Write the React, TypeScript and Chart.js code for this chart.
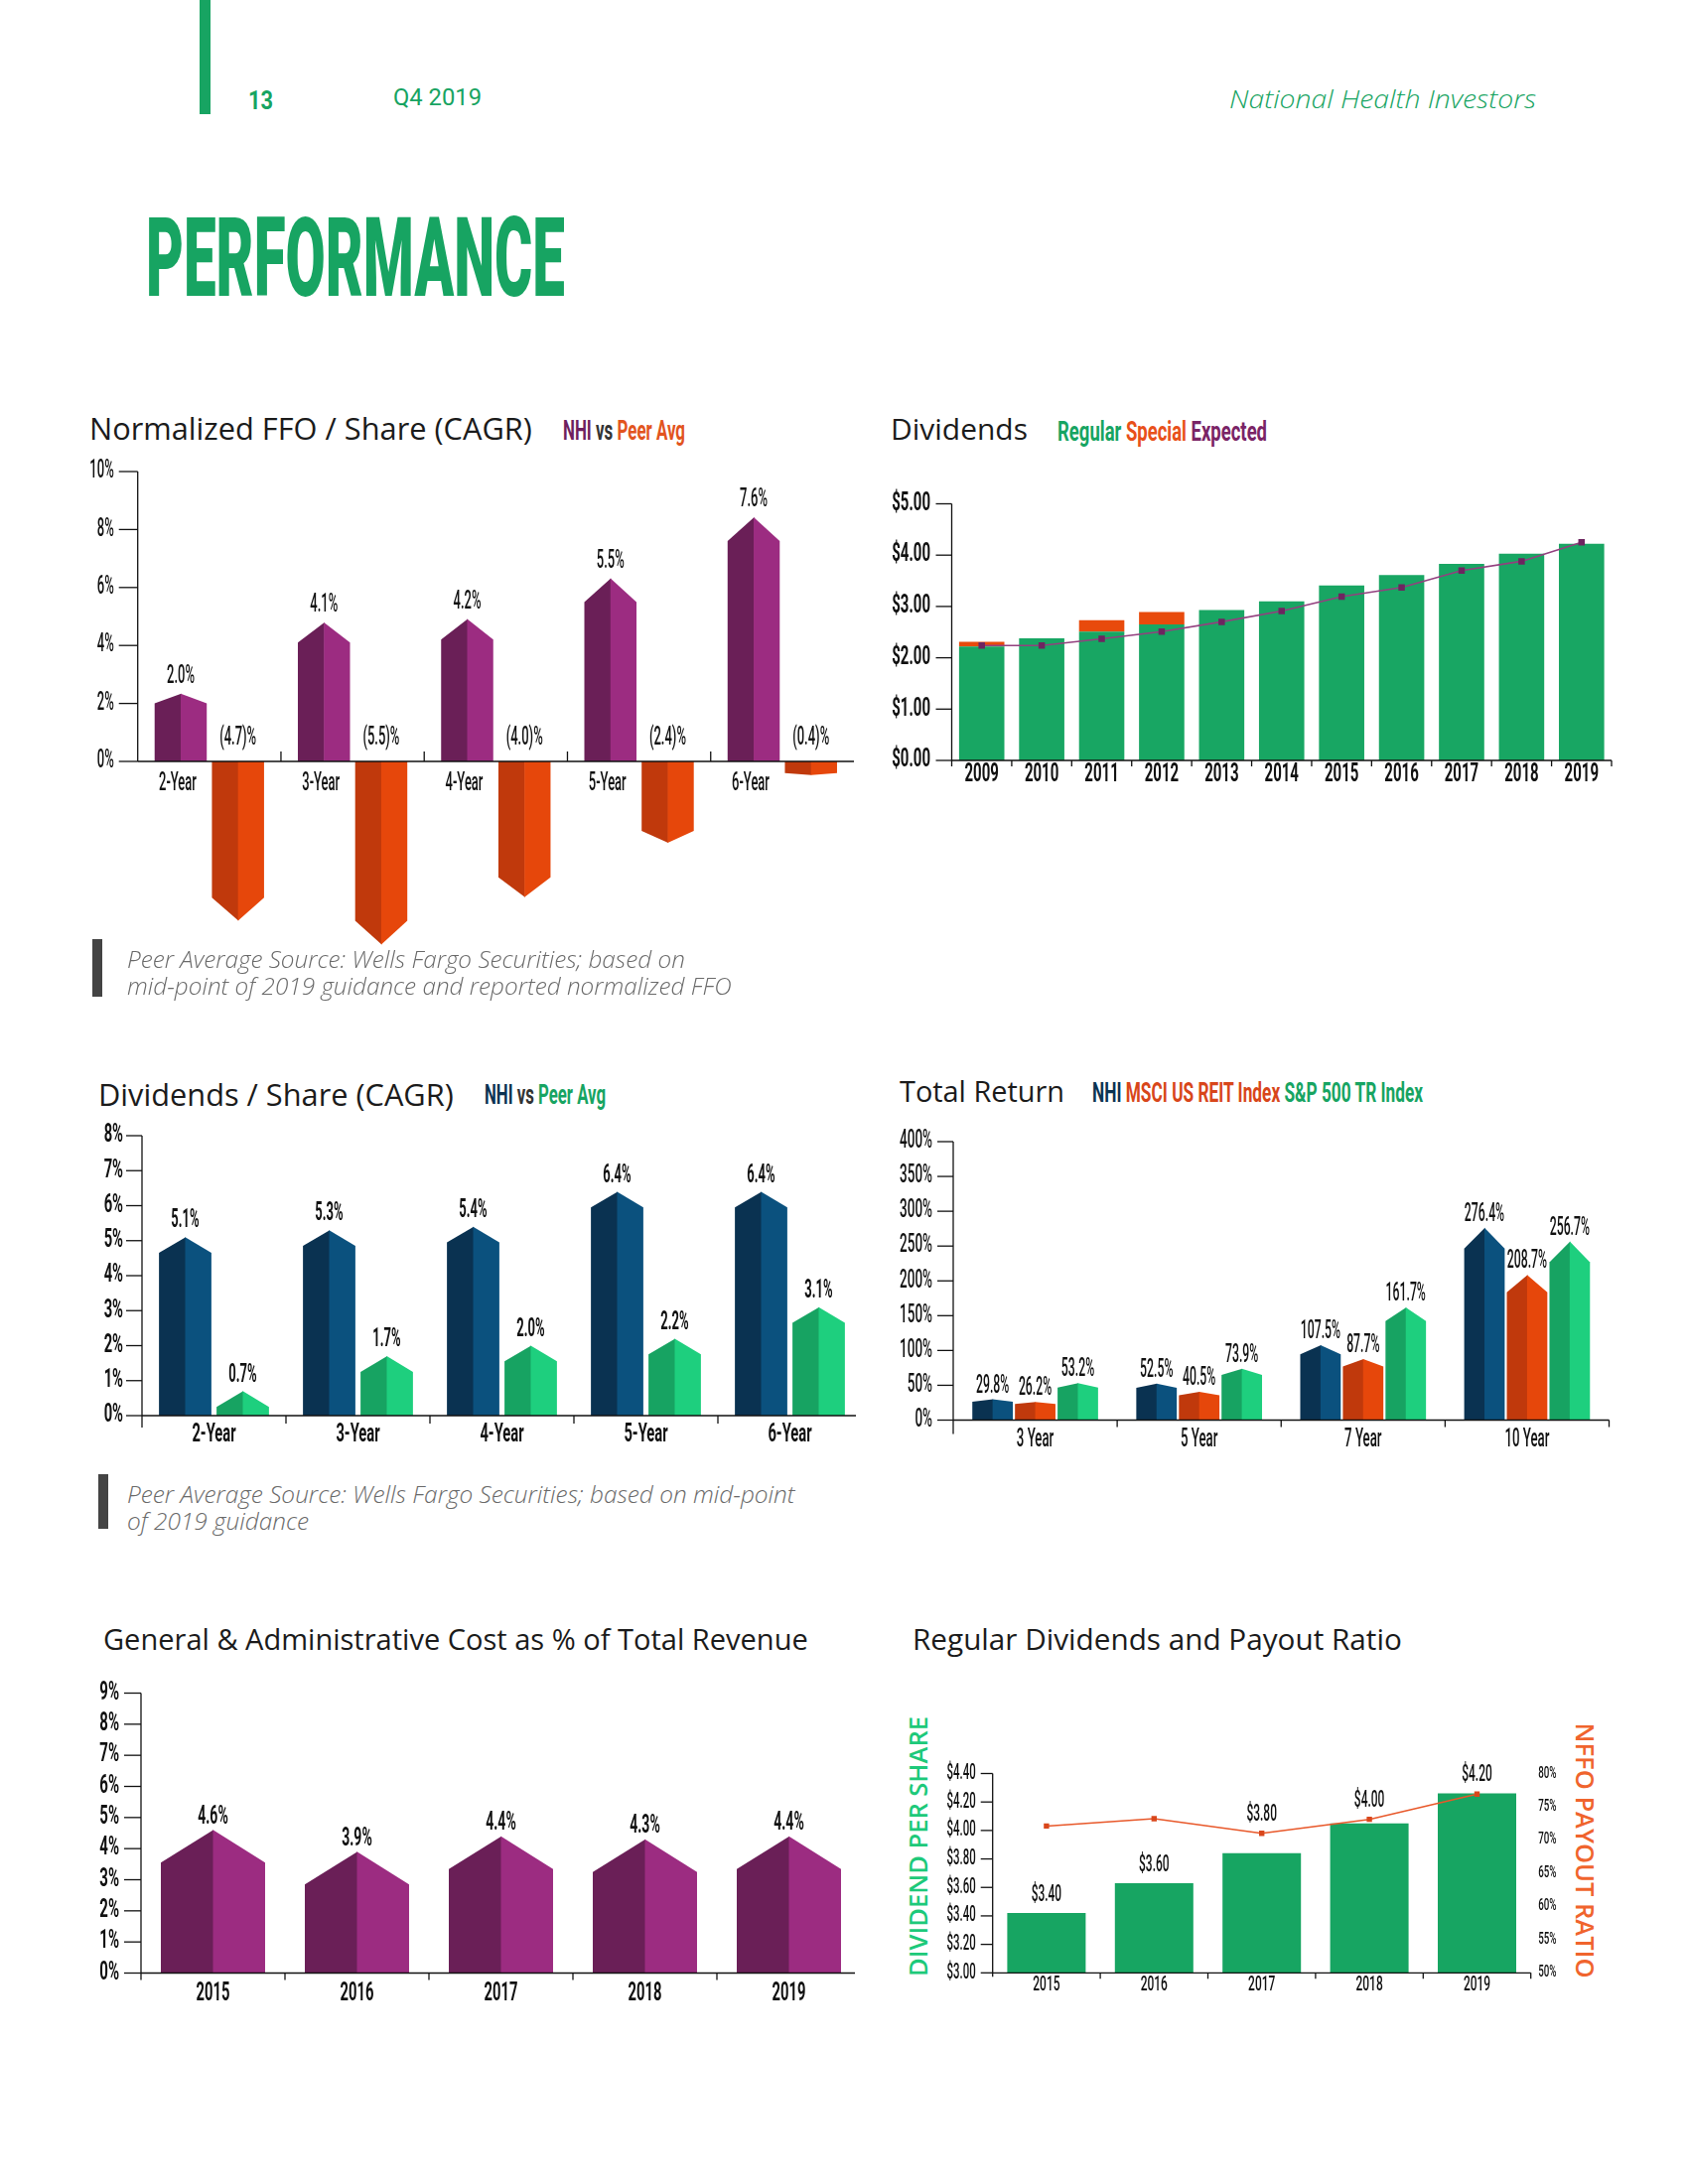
import React, { useEffect, useRef } from 'react';
import { Chart, registerables } from 'chart.js';
Chart.register(...registerables);

// ---------------- DATA ----------------
const ffoCategories = ['2-Year', '3-Year', '4-Year', '5-Year', '6-Year'];
const ffoNHI = [2.0, 4.1, 4.2, 5.5, 7.6];
const ffoPeerAvg = [-4.7, -5.5, -4.0, -2.4, -0.4];
const ffoTicks = [0, 2, 4, 6, 8, 10];

const divYears = ['2009', '2010', '2011', '2012', '2013', '2014', '2015', '2016', '2017', '2018', '2019'];
const divRegular = [2.22, 2.38, 2.51, 2.65, 2.93, 3.1, 3.41, 3.61, 3.83, 4.03, 4.22];
const divSpecial = [0.09, 0, 0.22, 0.24, 0, 0, 0, 0, 0, 0, 0];
const divExpected = [2.24, 2.24, 2.37, 2.51, 2.7, 2.91, 3.19, 3.37, 3.7, 3.88, 4.25];
const divTicks = [0, 1, 2, 3, 4, 5];

const dpsCategories = ['2-Year', '3-Year', '4-Year', '5-Year', '6-Year'];
const dpsNHI = [5.1, 5.3, 5.4, 6.4, 6.4];
const dpsPeerAvg = [0.7, 1.7, 2.0, 2.2, 3.1];
const dpsTicks = [0, 1, 2, 3, 4, 5, 6, 7, 8];

const trCategories = ['3 Year', '5 Year', '7 Year', '10 Year'];
const trNHI = [29.8, 52.5, 107.5, 276.4];
const trMSCI = [26.2, 40.5, 87.7, 208.7];
const trSP500 = [53.2, 73.9, 161.7, 256.7];
const trTicks = [0, 50, 100, 150, 200, 250, 300, 350, 400];

const gaYears = ['2015', '2016', '2017', '2018', '2019'];
const gaValues = [4.6, 3.9, 4.4, 4.3, 4.4];
const gaTicks = [0, 1, 2, 3, 4, 5, 6, 7, 8, 9];

const rdYears = ['2015', '2016', '2017', '2018', '2019'];
const rdDividend = [3.42, 3.63, 3.84, 4.05, 4.26];
const rdDividendLabels = ['$3.40', '$3.60', '$3.80', '$4.00', '$4.20'];
const rdPayoutRatio = [72.1, 73.2, 71.0, 73.1, 76.9];
const rdDividendTicks = [3.0, 3.2, 3.4, 3.6, 3.8, 4.0, 4.2, 4.4];
const rdPayoutTicks = [50, 55, 60, 65, 70, 75, 80];

// ---------------- COLORS ----------------
const GREEN = '#17A462';
const PURPLE_D = '#6A1F57';
const PURPLE_L = '#9C2C81';
const ORANGE_D = '#C0390C';
const ORANGE_L = '#E6470B';
const NAVY_D = '#0A3251';
const NAVY_L = '#0B517E';
const GREEN_D = '#17A362';
const GREEN_L = '#1ECF7E';

// ---------------- CANVAS HELPERS ----------------
type TF = { size: number; weight: number; sx: number; color?: string };

function ctext(ctx: any, s: string, x: number, y: number, f: TF, align: string = 'center') {
  ctx.save();
  ctx.font = `${f.weight} ${f.size}px Roboto, "DejaVu Sans", sans-serif`;
  ctx.fillStyle = f.color || '#111';
  ctx.textBaseline = 'middle';
  ctx.textAlign = align;
  ctx.translate(x, y);
  ctx.scale(f.sx, 1);
  ctx.fillText(s, 0, 0);
  ctx.restore();
}

function seg(ctx: any, x1: number, y1: number, x2: number, y2: number, w = 1.3, c = '#111') {
  ctx.save();
  ctx.strokeStyle = c;
  ctx.lineWidth = w;
  ctx.beginPath();
  ctx.moveTo(x1, y1);
  ctx.lineTo(x2, y2);
  ctx.stroke();
  ctx.restore();
}

function house(ctx: any, cx: number, w: number, baseY: number, shoulderY: number, peakY: number, dark: string, light: string) {
  const x0 = cx - w / 2;
  const x1 = cx + w / 2;
  ctx.save();
  ctx.fillStyle = dark;
  ctx.beginPath();
  ctx.moveTo(x0, baseY);
  ctx.lineTo(x0, shoulderY);
  ctx.lineTo(cx + 0.5, peakY);
  ctx.lineTo(cx + 0.5, baseY);
  ctx.closePath();
  ctx.fill();
  ctx.fillStyle = light;
  ctx.beginPath();
  ctx.moveTo(cx, baseY);
  ctx.lineTo(cx, peakY);
  ctx.lineTo(x1, shoulderY);
  ctx.lineTo(x1, baseY);
  ctx.closePath();
  ctx.fill();
  ctx.restore();
}

function yAxisDraw(chart: any, scaleId: string, ticks: number[], fmt: (v: number) => string, f: TF,
  o: { tickLen: number; gap: number; below?: number; side?: string; noLine?: boolean }) {
  const ctx = chart.ctx;
  const ys = chart.scales[scaleId];
  const side = o.side || 'left';
  const x = side === 'left' ? chart.chartArea.left : chart.chartArea.right;
  const top = ys.getPixelForValue(ticks[ticks.length - 1]);
  const bot = ys.getPixelForValue(ticks[0]);
  if (!o.noLine) seg(ctx, x, top, x, bot + (o.below || 0));
  ticks.forEach((v) => {
    const y = ys.getPixelForValue(v);
    if (side === 'left') {
      if (o.tickLen > 0) seg(ctx, x - o.tickLen, y, x, y);
      ctext(ctx, fmt(v), x - o.gap, y, f, 'right');
    } else {
      if (o.tickLen > 0) seg(ctx, x, y, x + o.tickLen, y);
      ctext(ctx, fmt(v), x + o.gap, y, f, 'left');
    }
  });
}

function boundaries(chart: any, n: number) {
  const xs = chart.scales.x;
  const c0 = xs.getPixelForValue(0);
  const cw = n > 1 ? xs.getPixelForValue(1) - c0 : chart.chartArea.width;
  const out: number[] = [];
  for (let k = 0; k <= n; k++) out.push(c0 - cw / 2 + k * cw);
  return out;
}

// ---------------- CHART BOX ----------------
type Box = { left: number; top: number; width: number; height: number; area: { l: number; t: number; r: number; b: number } };

function baseOptions(padding: any, scales: any) {
  return {
    responsive: false,
    maintainAspectRatio: false,
    animation: false,
    events: [],
    layout: { padding },
    plugins: { legend: { display: false }, tooltip: { enabled: false }, title: { display: false } },
    scales,
  };
}

function ChartBox({ box, build }: { box: Box; build: (padding: any) => any }) {
  const ref = useRef<HTMLCanvasElement | null>(null);
  useEffect(() => {
    if (!ref.current) return;
    const { l, t, r, b } = box.area;
    const padding = { left: l - box.left, top: t - box.top, right: box.left + box.width - r, bottom: box.top + box.height - b };
    const chart = new Chart(ref.current, build(padding));
    return () => chart.destroy();
  }, []);
  return (
    <canvas
      ref={ref}
      width={box.width}
      height={box.height}
      style={{ position: 'absolute', left: box.left, top: box.top, width: box.width, height: box.height }}
    />
  );
}

const clear = 'rgba(0,0,0,0)';

// ---------- Chart 1: Normalized FFO ----------
const ffoBox: Box = { left: 80, top: 455, width: 800, height: 520, area: { l: 138.7, t: 475, r: 860, b: 767 } };
function buildFFO(padding: any) {
  const fTick: TF = { size: 25, weight: 500, sx: 0.52 };
  const fVal: TF = { size: 25, weight: 500, sx: 0.52 };
  const pct = (v: number) => (v < 0 ? `(${Math.abs(v).toFixed(1)})%` : `${v.toFixed(1)}%`);
  return {
    type: 'bar',
    data: {
      labels: ffoCategories,
      datasets: [
        { label: 'NHI', data: ffoNHI, backgroundColor: clear, categoryPercentage: 0.8, barPercentage: 0.91 },
        { label: 'Peer Avg', data: ffoPeerAvg, backgroundColor: clear, categoryPercentage: 0.8, barPercentage: 0.91 },
      ],
    },
    options: baseOptions(padding, {
      x: { display: false, offset: true },
      y: { display: false, min: 0, max: 10 },
    }),
    plugins: [{
      id: 'ffo',
      afterDatasetsDraw(chart: any) {
        const ctx = chart.ctx;
        const ys = chart.scales.y;
        const y0 = ys.getPixelForValue(0);
        const mN = chart.getDatasetMeta(0);
        const mP = chart.getDatasetMeta(1);
        ffoNHI.forEach((v, i) => {
          const el = mN.data[i];
          const vy = ys.getPixelForValue(v);
          const tip = Math.min(0.17 * (y0 - vy), 24);
          house(ctx, el.x, el.width, y0, vy, vy - tip, PURPLE_D, PURPLE_L);
          ctext(ctx, pct(v), el.x, vy - tip - 17, fVal);
          ctext(ctx, ffoCategories[i], el.x - 3, y0 + 23, fTick);
        });
        ffoPeerAvg.forEach((v, i) => {
          const el = mP.data[i];
          const vy = ys.getPixelForValue(v);
          const tip = Math.min(0.17 * (vy - y0), 24);
          house(ctx, el.x, el.width, y0, vy, vy + tip, ORANGE_D, ORANGE_L);
          ctext(ctx, pct(v), el.x, y0 - 23, fVal);
        });
        yAxisDraw(chart, 'y', ffoTicks, (v) => `${v}%`, fTick, { tickLen: 19, gap: 24 });
        seg(ctx, chart.chartArea.left, y0, chart.chartArea.right, y0);
        boundaries(chart, ffoCategories.length).slice(1, -1).forEach((bx) => seg(ctx, bx, y0 - 10, bx, y0));
      },
    }],
  };
}

// ---------- Chart 2: Dividends ----------
const divBox: Box = { left: 880, top: 490, width: 760, height: 320, area: { l: 958.5, t: 507.5, r: 1623, b: 766 } };
function buildDiv(padding: any) {
  const f: TF = { size: 25, weight: 700, sx: 0.6 };
  return {
    type: 'bar',
    data: {
      labels: divYears,
      datasets: [
        { type: 'line', label: 'Expected', data: divExpected, borderColor: '#93407F', borderWidth: 1.6,
          pointStyle: 'rect', pointRadius: 4.6, pointBackgroundColor: '#6E2460', pointBorderWidth: 0, order: 0, tension: 0 },
        { label: 'Regular', data: divRegular, backgroundColor: '#18A663', borderWidth: 0, categoryPercentage: 0.8, barPercentage: 0.944, order: 1 },
        { label: 'Special', data: divSpecial, backgroundColor: '#E84A0C', borderWidth: 0, categoryPercentage: 0.8, barPercentage: 0.944, order: 1 },
      ],
    },
    options: baseOptions(padding, {
      x: { display: false, offset: true, stacked: true },
      y: { display: false, min: 0, max: 5, stacked: true },
    }),
    plugins: [{
      id: 'div',
      afterDraw(chart: any) {
        const ctx = chart.ctx;
        const ys = chart.scales.y;
        const xs = chart.scales.x;
        const y0 = ys.getPixelForValue(0);
        yAxisDraw(chart, 'y', divTicks, (v) => `$${v.toFixed(2)}`, f, { tickLen: 16, gap: 21.5, below: 6 });
        seg(ctx, chart.chartArea.left, y0, chart.chartArea.right, y0);
        boundaries(chart, divYears.length).slice(1).forEach((bx) => seg(ctx, bx, y0, bx, y0 + 6));
        divYears.forEach((yr, i) => ctext(ctx, yr, xs.getPixelForValue(i), y0 + 15, f));
      },
    }],
  };
}

// ---------- Chart 3: Dividends / Share CAGR ----------
const dpsBox: Box = { left: 80, top: 1125, width: 810, height: 345, area: { l: 143, t: 1144, r: 868, b: 1426 } };
function buildDPS(padding: any) {
  const fTick: TF = { size: 25, weight: 700, sx: 0.59 };
  const fVal: TF = { size: 25, weight: 700, sx: 0.52 };
  return {
    type: 'bar',
    data: {
      labels: dpsCategories,
      datasets: [
        { label: 'NHI', data: dpsNHI, backgroundColor: clear, categoryPercentage: 0.8, barPercentage: 0.91 },
        { label: 'Peer Avg', data: dpsPeerAvg, backgroundColor: clear, categoryPercentage: 0.8, barPercentage: 0.91 },
      ],
    },
    options: baseOptions(padding, {
      x: { display: false, offset: true },
      y: { display: false, min: 0, max: 8 },
    }),
    plugins: [{
      id: 'dps',
      afterDatasetsDraw(chart: any) {
        const ctx = chart.ctx;
        const ys = chart.scales.y;
        const xs = chart.scales.x;
        const y0 = ys.getPixelForValue(0);
        const series = [dpsNHI, dpsPeerAvg];
        const cols = [[NAVY_D, NAVY_L], [GREEN_D, GREEN_L]];
        series.forEach((vals, di) => {
          const meta = chart.getDatasetMeta(di);
          vals.forEach((v, i) => {
            const el = meta.data[i];
            const vy = ys.getPixelForValue(v);
            const tip = Math.min(15.8, 0.9 * (y0 - vy));
            house(ctx, el.x, el.width, y0, vy + tip, vy, cols[di][0], cols[di][1]);
            ctext(ctx, `${v.toFixed(1)}%`, el.x, vy - 16, fVal);
          });
        });
        yAxisDraw(chart, 'y', dpsTicks, (v) => `${v}%`, fTick, { tickLen: 16, gap: 19, below: 12 });
        seg(ctx, chart.chartArea.left, y0, chart.chartArea.right - 6, y0);
        boundaries(chart, dpsCategories.length).slice(1, -1).forEach((bx) => seg(ctx, bx, y0, bx, y0 + 8));
        dpsCategories.forEach((c, i) => ctext(ctx, c, xs.getPixelForValue(i), y0 + 20, fTick));
      },
    }],
  };
}

// ---------- Chart 4: Total Return ----------
const trBox: Box = { left: 880, top: 1130, width: 760, height: 340, area: { l: 960, t: 1150, r: 1620.5, b: 1430.5 } };
function buildTR(padding: any) {
  const fTick: TF = { size: 25, weight: 500, sx: 0.54 };
  const fX: TF = { size: 25, weight: 500, sx: 0.53 };
  const fVal: TF = { size: 25, weight: 500, sx: 0.49 };
  return {
    type: 'bar',
    data: {
      labels: trCategories,
      datasets: [
        { label: 'NHI', data: trNHI, backgroundColor: clear, categoryPercentage: 0.78, barPercentage: 0.95 },
        { label: 'MSCI US REIT Index', data: trMSCI, backgroundColor: clear, categoryPercentage: 0.78, barPercentage: 0.95 },
        { label: 'S&P 500 TR Index', data: trSP500, backgroundColor: clear, categoryPercentage: 0.78, barPercentage: 0.95 },
      ],
    },
    options: baseOptions(padding, {
      x: { display: false, offset: true },
      y: { display: false, min: 0, max: 400 },
    }),
    plugins: [{
      id: 'tr',
      afterDatasetsDraw(chart: any) {
        const ctx = chart.ctx;
        const ys = chart.scales.y;
        const xs = chart.scales.x;
        const y0 = ys.getPixelForValue(0);
        const series = [trNHI, trMSCI, trSP500];
        const cols = [[NAVY_D, NAVY_L], [ORANGE_D, ORANGE_L], [GREEN_D, GREEN_L]];
        series.forEach((vals, di) => {
          const meta = chart.getDatasetMeta(di);
          vals.forEach((v, i) => {
            const el = meta.data[i];
            const vy = ys.getPixelForValue(v);
            const tip = Math.min(0.12 * (y0 - vy), 21);
            house(ctx, el.x, el.width, y0, vy + tip, vy, cols[di][0], cols[di][1]);
            ctext(ctx, `${v.toFixed(1)}%`, el.x, vy - 13, fVal);
          });
        });
        yAxisDraw(chart, 'y', trTicks, (v) => `${v}%`, fTick, { tickLen: 16, gap: 21, below: 14 });
        seg(ctx, chart.chartArea.left, y0, chart.chartArea.right, y0);
        boundaries(chart, trCategories.length).slice(1).forEach((bx) => seg(ctx, bx, y0, bx, y0 + 7));
        trCategories.forEach((c, i) => ctext(ctx, c, xs.getPixelForValue(i), y0 + 20, fX));
      },
    }],
  };
}

// ---------- Chart 5: G&A ----------
const gaBox: Box = { left: 80, top: 1690, width: 810, height: 340, area: { l: 142, t: 1705.5, r: 867, b: 1987.5 } };
function buildGA(padding: any) {
  const fTick: TF = { size: 25, weight: 700, sx: 0.6 };
  const fX: TF = { size: 25, weight: 700, sx: 0.59 };
  const fVal: TF = { size: 25, weight: 700, sx: 0.56 };
  return {
    type: 'bar',
    data: {
      labels: gaYears,
      datasets: [{ label: 'G&A %', data: gaValues, backgroundColor: clear, categoryPercentage: 0.8, barPercentage: 0.905 }],
    },
    options: baseOptions(padding, {
      x: { display: false, offset: true },
      y: { display: false, min: 0, max: 9 },
    }),
    plugins: [{
      id: 'ga',
      afterDatasetsDraw(chart: any) {
        const ctx = chart.ctx;
        const ys = chart.scales.y;
        const xs = chart.scales.x;
        const y0 = ys.getPixelForValue(0);
        const meta = chart.getDatasetMeta(0);
        gaValues.forEach((v, i) => {
          const el = meta.data[i];
          const vy = ys.getPixelForValue(v);
          house(ctx, el.x, el.width, y0, vy + 33, vy, PURPLE_D, PURPLE_L);
          ctext(ctx, `${v.toFixed(1)}%`, el.x, vy - 13, fVal);
        });
        yAxisDraw(chart, 'y', gaTicks, (v) => `${v}%`, fTick, { tickLen: 17, gap: 22, below: 7 });
        seg(ctx, chart.chartArea.left, y0, chart.chartArea.right - 6, y0);
        boundaries(chart, gaYears.length).slice(1, -1).forEach((bx) => seg(ctx, bx, y0, bx, y0 + 7));
        gaYears.forEach((c, i) => ctext(ctx, c, xs.getPixelForValue(i), y0 + 21, fX));
      },
    }],
  };
}

// ---------- Chart 6: Regular Dividends & Payout ----------
const rdBox: Box = { left: 940, top: 1760, width: 660, height: 260, area: { l: 999.7, t: 1786.5, r: 1541.7, b: 1987.3 } };
function buildRD(padding: any) {
  const fTick: TF = { size: 22, weight: 500, sx: 0.52 };
  const fRight: TF = { size: 16, weight: 500, sx: 0.61 };
  const fX: TF = { size: 21, weight: 500, sx: 0.57 };
  const fVal: TF = { size: 23, weight: 500, sx: 0.52 };
  return {
    type: 'bar',
    data: {
      labels: rdYears,
      datasets: [
        { type: 'line', label: 'NFFO Payout Ratio', data: rdPayoutRatio, yAxisID: 'y2', borderColor: '#E8582A', borderWidth: 1.5,
          pointStyle: 'rect', pointRadius: 3.8, pointBackgroundColor: '#D9471C', pointBorderWidth: 0, order: 0, tension: 0 },
        { label: 'Dividend per Share', data: rdDividend, yAxisID: 'y', backgroundColor: '#17A562', borderWidth: 0,
          categoryPercentage: 0.8, barPercentage: 0.911, order: 1 },
      ],
    },
    options: baseOptions(padding, {
      x: { display: false, offset: true },
      y: { display: false, min: 3.0, max: 4.4 },
      y2: { display: false, min: 50, max: 80, position: 'right' },
    }),
    plugins: [{
      id: 'rd',
      afterDraw(chart: any) {
        const ctx = chart.ctx;
        const ys = chart.scales.y;
        const y2 = chart.scales.y2;
        const xs = chart.scales.x;
        const y0 = ys.getPixelForValue(3.0);
        yAxisDraw(chart, 'y', rdDividendTicks, (v) => `$${v.toFixed(2)}`, fTick, { tickLen: 12, gap: 17, below: 4 });
        yAxisDraw(chart, 'y2', rdPayoutTicks, (v) => `${v}%`, fRight, { tickLen: 0, gap: 7.5, side: 'right', noLine: true });
        seg(ctx, chart.chartArea.left, y0, chart.chartArea.right, y0);
        boundaries(chart, rdYears.length).slice(1).forEach((bx) => seg(ctx, bx, y0, bx, y0 + 6));
        rdYears.forEach((c, i) => ctext(ctx, c, xs.getPixelForValue(i), y0 + 12, fX));
        rdDividend.forEach((v, i) => {
          const x = xs.getPixelForValue(i);
          const barTop = ys.getPixelForValue(v);
          const lineY = y2.getPixelForValue(rdPayoutRatio[i]);
          const near = lineY < barTop && barTop - lineY < 40;
          const y = near ? lineY - 18 : barTop - 18;
          ctext(ctx, rdDividendLabels[i], x, y, fVal);
        });
      },
    }],
  };
}

// ---------------- HTML TEXT ----------------
let mctx: any = null;
function measure(text: string, font: string) {
  if (!mctx) mctx = document.createElement('canvas').getContext('2d');
  mctx.font = font;
  return mctx.measureText(text).width;
}
const FAM: any = {
  open: { css: '"Open Sans", sans-serif', capC: 0.53, cap: 0.714 },
  roboto: { css: 'Roboto, sans-serif', capC: 0.49, cap: 0.711 },
};
type Seg = { t: string; c: string };

function fitSize(text: string, w: number, fam: string, weight: number, italic: boolean) {
  const F = FAM[fam];
  return (100 * w) / measure(text, `${italic ? 'italic ' : ''}${weight} 100px ${F.css}`);
}

function Label({ x, y, w, h, size, segs, fam = 'open', weight = 400, italic = false }:
  { x: number; y: number; w?: number; h?: number; size?: number; segs: Seg[]; fam?: string; weight?: number; italic?: boolean }) {
  const F = FAM[fam];
  const text = segs.map((s) => s.t).join('');
  const fontAt = (s: number) => `${italic ? 'italic ' : ''}${weight} ${s}px ${F.css}`;
  let fs = 20;
  let sx = 1;
  if (size) fs = size;
  else if (h && w) {
    fs = h / F.cap;
    sx = w / measure(text, fontAt(fs));
  } else if (w) fs = fitSize(text, w, fam, weight, italic);
  return (
    <div
      style={{
        position: 'absolute', left: x, top: y - F.capC * fs, fontFamily: F.css, fontSize: fs, fontWeight: weight,
        fontStyle: italic ? 'italic' : 'normal', lineHeight: `${fs}px`, whiteSpace: 'pre',
        transform: `scaleX(${sx})`, transformOrigin: '0 0',
      }}
    >
      {segs.map((s, i) => (
        <span key={i} style={{ color: s.c }}>{s.t}</span>
      ))}
    </div>
  );
}

function Rotated({ x, y, len, text, color, dir }: { x: number; y: number; len: number; text: string; color: string; dir: number }) {
  const fs = fitSize(text, len, 'open', 600, false);
  return (
    <div
      style={{
        position: 'absolute', left: x, top: y, transform: `translate(-50%, -50%) rotate(${dir * 90}deg)`,
        fontFamily: FAM.open.css, fontWeight: 600, fontSize: fs, lineHeight: `${fs}px`, color, whiteSpace: 'pre',
      }}
    >
      {text}
    </div>
  );
}

const TITLE = '#1b1b1b';
const NOTE = '#6a6a6a';

export default function App() {
  const note1 = 'Peer Average Source: Wells Fargo Securities; based on';
  const note1Size = fitSize(note1, 562, 'open', 300, true);
  const note2 = 'Peer Average Source: Wells Fargo Securities; based on mid-point';
  const note2Size = fitSize(note2, 673, 'open', 300, true);
  return (
    <div style={{ position: 'absolute', left: 0, top: 0, width: 1700, height: 2200, background: '#fff', overflow: 'hidden' }}>
      {/* header */}
      <div style={{ position: 'absolute', left: 201, top: 0, width: 11, height: 115, background: GREEN }} />
      <Label x={250} y={101} w={25} h={18} fam="roboto" weight={700} segs={[{ t: '13', c: GREEN }]} />
      <Label x={396} y={99} w={89} h={17} fam="roboto" weight={400} segs={[{ t: 'Q4 2019', c: GREEN }]} />
      <Label x={1238} y={100} w={309} h={18} fam="open" weight={300} italic segs={[{ t: 'National Health Investors', c: GREEN }]} />
      <Label x={147} y={259.5} w={422} h={79} fam="roboto" weight={900} segs={[{ t: 'PERFORMANCE', c: GREEN }]} />

      {/* chart 1 */}
      <Label x={90} y={432} w={446} weight={500} segs={[{ t: 'Normalized FFO / Share (CAGR)', c: TITLE }]} />
      <Label x={567} y={434} w={123} h={20} fam="roboto" weight={700}
        segs={[{ t: 'NHI', c: '#6E1F5E' }, { t: ' vs ', c: '#333' }, { t: 'Peer Avg', c: '#E2541E' }]} />
      <ChartBox box={ffoBox} build={buildFFO} />
      <div style={{ position: 'absolute', left: 93, top: 946, width: 10, height: 58, background: '#444' }} />
      <Label x={128} y={967} size={note1Size} weight={300} italic segs={[{ t: note1, c: NOTE }]} />
      <Label x={128} y={994} size={note1Size} weight={300} italic segs={[{ t: 'mid-point of 2019 guidance and reported normalized FFO', c: NOTE }]} />

      {/* chart 2 */}
      <Label x={897} y={433} w={138} weight={500} segs={[{ t: 'Dividends', c: TITLE }]} />
      <Label x={1065} y={435} w={211} h={20} fam="roboto" weight={700}
        segs={[{ t: 'Regular ', c: GREEN }, { t: 'Special ', c: '#E8501A' }, { t: 'Expected', c: '#7A2466' }]} />
      <ChartBox box={divBox} build={buildDiv} />

      {/* chart 3 */}
      <Label x={99} y={1103} w={358} weight={500} segs={[{ t: 'Dividends / Share (CAGR)', c: TITLE }]} />
      <Label x={488} y={1103} w={122} h={20} fam="roboto" weight={700}
        segs={[{ t: 'NHI', c: '#0B3352' }, { t: ' vs ', c: '#333' }, { t: 'Peer Avg', c: GREEN }]} />
      <ChartBox box={dpsBox} build={buildDPS} />
      <div style={{ position: 'absolute', left: 99, top: 1485, width: 10, height: 55, background: '#444' }} />
      <Label x={128} y={1506} size={note2Size} weight={300} italic segs={[{ t: note2, c: NOTE }]} />
      <Label x={128} y={1533} size={note2Size} weight={300} italic segs={[{ t: 'of 2019 guidance', c: NOTE }]} />

      {/* chart 4 */}
      <Label x={906} y={1100} w={166} weight={500} segs={[{ t: 'Total Return', c: TITLE }]} />
      <Label x={1100} y={1101} w={334} h={20} fam="roboto" weight={700}
        segs={[{ t: 'NHI ', c: '#0B3352' }, { t: 'MSCI US REIT Index ', c: '#D8461A' }, { t: 'S&P 500 TR Index', c: GREEN }]} />
      <ChartBox box={trBox} build={buildTR} />

      {/* chart 5 */}
      <Label x={104} y={1652} w={710} weight={500} segs={[{ t: 'General & Administrative Cost as % of Total Revenue', c: TITLE }]} />
      <ChartBox box={gaBox} build={buildGA} />

      {/* chart 6 */}
      <Label x={919} y={1652} w={493} weight={500} segs={[{ t: 'Regular Dividends and Payout Ratio', c: TITLE }]} />
      <Rotated x={925} y={1860} len={262} text="DIVIDEND PER SHARE" color="#1DC97A" dir={-1} />
      <Rotated x={1596} y={1864} len={257} text="NFFO PAYOUT RATIO" color="#F0642D" dir={1} />
      <ChartBox box={rdBox} build={buildRD} />
    </div>
  );
}
